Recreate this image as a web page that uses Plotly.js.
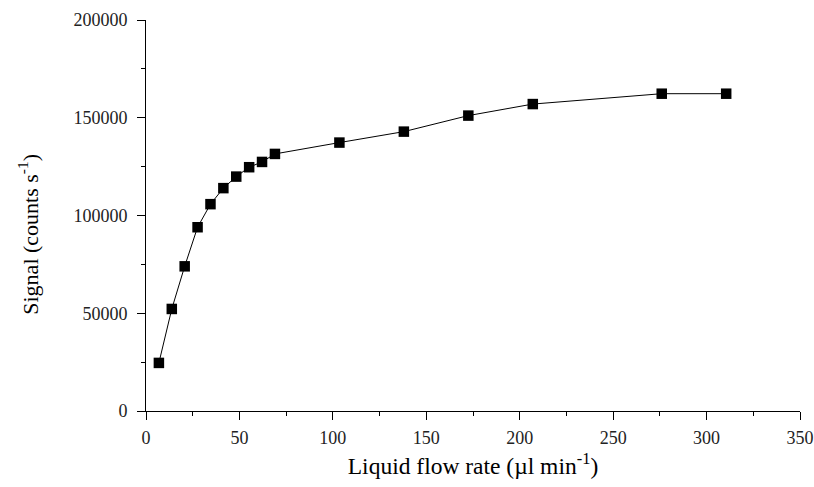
<!DOCTYPE html>
<html>
<head>
<meta charset="utf-8">
<script src="https://cdn.plot.ly/plotly-3.0.1.min.js"></script>
<style>html,body{margin:0;padding:0;background:#fff;}#chart{width:814px;height:487px;}</style>
</head>
<body>
<div id="chart"></div>
<script>
const flowRate = [6.9, 13.8, 20.7, 27.6, 34.5, 41.4, 48.3, 55.2, 62.1, 69, 103.5, 138, 172.5, 207, 276, 310.5];
const signal = [24600, 52200, 74000, 94000, 105800, 114000, 119900, 124700, 127400, 131500, 137300, 142900, 151100, 157000, 162300, 162300];
const xTitle = 'Liquid flow rate (µl min<sup>-1</sup>)';
const yTitle = 'Signal (counts s<sup>-1</sup>)';

const font = 'Liberation Serif, Times New Roman, serif';
const trace = {
  x: flowRate, y: signal, type: 'scatter', mode: 'lines+markers',
  line: {color: '#000', width: 1},
  marker: {symbol: 'square', size: 10.5, color: '#000'},
  cliponaxis: false, hoverinfo: 'none'
};
const layout = {
  width: 814, height: 487,
  margin: {l: 146, r: 14, t: 20, b: 75.5},
  paper_bgcolor: '#fff', plot_bgcolor: '#fff',
  showlegend: false,
  font: {family: font, color: '#000', size: 18},
  xaxis: {
    range: [0, 350], dtick: 50, tick0: 0,
    showgrid: false, zeroline: false, showline: true, linecolor: '#000', linewidth: 1,
    ticks: 'outside', ticklen: 8, tickcolor: '#000', ticklabelstandoff: 2,
    minor: {ticks: 'outside', dtick: 25, ticklen: 4, tickcolor: '#000', showgrid: false},
    tickfont: {family: font, size: 18, color: '#222'},
    ticklabeloverflow: 'allow',
    title: {text: xTitle, font: {family: font, size: 23.5}, standoff: 10}
  },
  yaxis: {
    range: [0, 200000], dtick: 50000, tick0: 0, tickformat: 'd',
    showgrid: false, zeroline: false, showline: true, linecolor: '#000', linewidth: 1,
    ticks: 'outside', ticklen: 8, tickcolor: '#000', ticklabelstandoff: 6,
    minor: {ticks: 'outside', dtick: 25000, ticklen: 4, tickcolor: '#000', showgrid: false},
    tickfont: {family: font, size: 18, color: '#222'},
    ticklabeloverflow: 'allow'
  },
  annotations: [{
    text: yTitle, textangle: -90, showarrow: false,
    xref: 'paper', yref: 'paper',
    x: (28 - 146) / 654, y: (411.5 - 235) / 391.5,
    xanchor: 'center', yanchor: 'middle',
    font: {family: font, size: 22, color: '#000'}
  }]
};
Plotly.newPlot('chart', [trace], layout, {staticPlot: true, displayModeBar: false});
</script>
</body>
</html>
